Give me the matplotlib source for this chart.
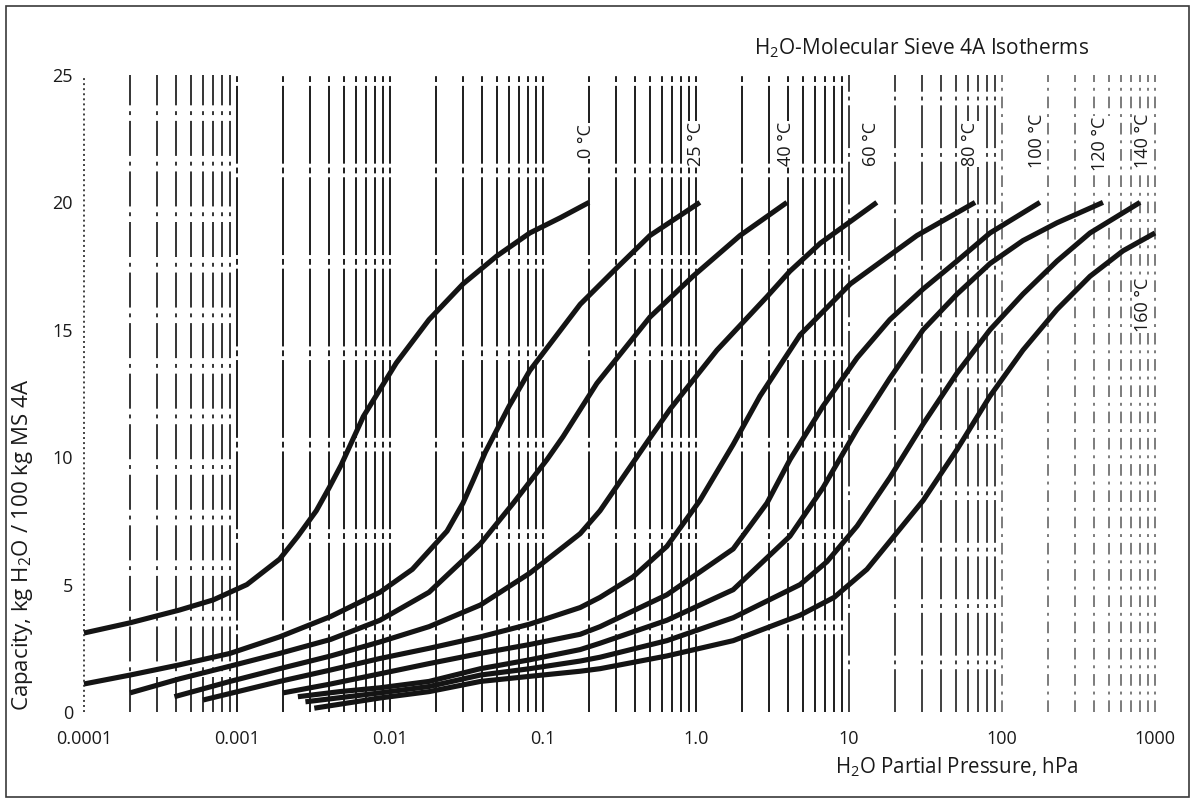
import matplotlib

matplotlib.use("Agg")
import matplotlib.pyplot as plt
from matplotlib.patches import Rectangle
from matplotlib.ticker import NullLocator

plt.rcParams["font.family"] = ["Open Sans", "DejaVu Sans"]
plt.rcParams["mathtext.fontset"] = "custom"
plt.rcParams["mathtext.rm"] = "Open Sans"
plt.rcParams["mathtext.it"] = "Open Sans:italic"

# isotherms: H2O partial pressure (hPa) -> capacity (kg/100 kg)
P_0C = [1.0e-4, 2.0e-4, 4.2e-4, 7.0e-4, 1.16e-3, 1.9e-3, 2.5e-3, 3.3e-3, 4.0e-3, 4.8e-3,
        6.7e-3, 0.011, 0.018, 0.030, 0.050, 0.082, 0.13, 0.20]
Q_0C = [3.1, 3.5, 4.0, 4.4, 5.0, 6.0, 6.9, 7.9, 8.8, 9.7,
        11.6, 13.7, 15.4, 16.8, 17.9, 18.8, 19.4, 20.0]

P_25C = [1.0e-4, 2.0e-4, 4.2e-4, 9.0e-4, 1.9e-3, 4.1e-3, 8.6e-3, 0.014, 0.0236, 0.030,
         0.035, 0.042, 0.060, 0.082, 0.175, 0.30, 0.50, 1.06]
Q_25C = [1.1, 1.45, 1.85, 2.3, 2.95, 3.75, 4.7, 5.6, 7.1, 8.2,
         9.1, 10.2, 12.0, 13.4, 16.0, 17.4, 18.7, 20.0]

P_40C = [2.0e-4, 4.2e-4, 9.0e-4, 1.9e-3, 4.1e-3, 8.6e-3, 0.018, 0.039, 0.064, 0.106,
         0.135, 0.225, 0.50, 0.955, 1.94, 3.93]
Q_40C = [0.75, 1.3, 1.8, 2.3, 2.85, 3.6, 4.7, 6.6, 8.2, 9.9,
         10.8, 12.9, 15.5, 17.1, 18.7, 20.0]

P_60C = [3.9e-4, 9.0e-4, 1.9e-3, 4.1e-3, 8.6e-3, 0.018, 0.039, 0.082, 0.175, 0.236,
         0.48, 0.68, 1.37, 2.91, 4.11, 6.5, 15.2]
Q_60C = [0.6, 1.2, 1.7, 2.2, 2.75, 3.35, 4.2, 5.45, 7.0, 7.9,
         10.6, 11.9, 14.2, 16.3, 17.3, 18.4, 20.0]

P_80C = [6.0e-4, 1.9e-3, 4.1e-3, 8.6e-3, 0.018, 0.039, 0.082, 0.175, 0.236, 0.387,
         0.645, 1.06, 1.75, 2.62, 4.79, 10.2, 27.8, 66.7]
Q_80C = [0.47, 1.2, 1.65, 2.1, 2.5, 2.95, 3.45, 4.1, 4.5, 5.3,
         6.5, 8.3, 10.5, 12.4, 14.8, 16.8, 18.7, 20.0]

P_100C = [2.0e-3, 4.1e-3, 8.6e-3, 0.018, 0.039, 0.082, 0.175, 0.236, 0.645, 1.75,
          2.91, 4.11, 6.76, 11.3, 18.5, 30.5, 50.8, 83.5, 177]
Q_100C = [0.75, 1.1, 1.5, 1.9, 2.3, 2.65, 3.05, 3.35, 4.6, 6.4,
          8.2, 9.9, 12.0, 13.9, 15.4, 16.6, 17.7, 18.8, 20.0]

P_120C = [2.5e-3, 4.7e-3, 8.6e-3, 0.018, 0.039, 0.082, 0.175, 0.236, 0.645, 1.75,
          4.11, 6.76, 11.3, 18.5, 30.5, 50.8, 83.5, 137, 229, 457]
Q_120C = [0.6, 0.8, 0.95, 1.2, 1.7, 2.05, 2.45, 2.7, 3.6, 4.8,
          6.9, 8.8, 11.1, 13.1, 15.0, 16.4, 17.6, 18.5, 19.2, 20.0]

P_140C = [2.8e-3, 8.6e-3, 0.018, 0.039, 0.082, 0.175, 0.236, 0.645, 1.75, 4.79,
          7.18, 11.3, 18.5, 30.5, 50.8, 83.5, 137, 229, 376, 798]
Q_140C = [0.4, 0.75, 1.0, 1.45, 1.7, 2.0, 2.15, 2.8, 3.7, 5.0,
          5.9, 7.3, 9.2, 11.3, 13.3, 15.0, 16.4, 17.7, 18.8, 20.0]

P_160C = [3.2e-3, 8.6e-3, 0.018, 0.039, 0.082, 0.175, 0.236, 0.645, 1.75, 4.79,
          8.0, 13.1, 18.5, 30.5, 50.8, 83.5, 137, 229, 376, 618, 1000]
Q_160C = [0.15, 0.55, 0.8, 1.2, 1.4, 1.6, 1.7, 2.2, 2.8, 3.8,
          4.5, 5.6, 6.7, 8.3, 10.3, 12.4, 14.2, 15.8, 17.1, 18.1, 18.8]

CURVE_LABELS = ["0 °C", "25 °C", "40 °C", "60 °C", "80 °C", "100 °C", "120 °C", "140 °C", "160 °C"]

X_TICKS = [1e-4, 1e-3, 1e-2, 1e-1, 1, 10, 100, 1000]
X_TICK_LABELS = ["0.0001", "0.001", "0.01", "0.1", "1.0", "10", "100", "1000"]
Y_TICKS = [0, 5, 10, 15, 20, 25]

curves = [
    (P_0C, Q_0C), (P_25C, Q_25C), (P_40C, Q_40C), (P_60C, Q_60C), (P_80C, Q_80C),
    (P_100C, Q_100C), (P_120C, Q_120C), (P_140C, Q_140C), (P_160C, Q_160C),
]

# where each rotated temperature label sits (pressure, capacity)
label_spots = [(0.19, 22.4), (1.0, 22.3), (3.9, 22.3), (14.0, 22.3), (62.0, 22.3),
               (170.0, 22.4), (440.0, 22.3), (840.0, 22.4), (830.0, 16.0)]

W, H = 1194, 806
fig = plt.figure(figsize=(W / 100, H / 100), dpi=100)
fig.patch.set_facecolor("white")
ax = fig.add_axes([84 / W, (H - 712) / H, 1071 / W, 637 / H])

ax.set_xscale("log")
ax.set_xlim(1e-4, 1e3)
ax.set_ylim(0, 25)

# vertical log grid, drawn line by line to mimic the broken scan look
for e in range(-4, 4):
    for m in range(1, 10):
        if e == 3 and m > 1:
            break
        v = m * 10.0 ** e
        if e == -4 and m == 1:
            ls, alpha = (0, (1.0, 1.6)), 0.8
        elif e == -4:
            ls, alpha = (0, (18, 3, 2, 3)), 0.85
        elif e >= 2:
            ls, alpha = (0, (6, 3, 1.5, 3)), 0.55
        elif e == 1:
            ls, alpha = (0, (22, 2.5, 2, 2.5)), 0.8
        else:
            ls, alpha = (0, (40, 2, 3, 2)), 0.95
        ax.axvline(v, color="#111111", lw=1.4, linestyle=ls, alpha=alpha, zorder=1, clip_on=False)

for p, q in curves:
    ax.plot(p, q, color="#141414", lw=3.7, solid_capstyle="butt", solid_joinstyle="round",
            zorder=3, clip_on=False)

for text, (px, qy) in zip(CURVE_LABELS, label_spots):
    ax.text(px, qy, text, rotation=90, ha="center", va="center", fontsize=13,
            color="#1a1a1a", zorder=4,
            bbox=dict(facecolor="white", edgecolor="none", pad=0.8))

for side in ("top", "right", "bottom", "left"):
    ax.spines[side].set_visible(False)

ax.set_xticks(X_TICKS, X_TICK_LABELS)
ax.xaxis.set_minor_locator(NullLocator())
ax.set_yticks(Y_TICKS, [str(t) for t in Y_TICKS])
ax.tick_params(axis="x", length=0, pad=13, labelsize=13, labelcolor="#1a1a1a")
ax.tick_params(axis="y", length=0, pad=8, labelsize=13, labelcolor="#1a1a1a")

ax.set_xlabel("H$_2$O Partial Pressure, hPa", fontsize=14.8, color="#1a1a1a")
ax.xaxis.set_label_coords(0.815, -0.086)
ax.xaxis.label.set_verticalalignment("center")

ax.set_ylabel("Capacity, kg H$_2$O / 100 kg MS 4A", fontsize=16, color="#1a1a1a")
ax.yaxis.set_label_coords(-0.057, 0.262)
ax.yaxis.label.set_verticalalignment("center")

fig.text(922 / W, 1 - 48 / H, "H$_2$O-Molecular Sieve 4A Isotherms", ha="center", va="center",
         fontsize=15, color="#1a1a1a")

fig.add_artist(Rectangle((6 / W, 9 / H), 1183 / W, 791 / H, transform=fig.transFigure,
                         fill=False, edgecolor="#3a3a3a", lw=1.2))

fig.savefig("out.png", dpi=100, facecolor="white")
